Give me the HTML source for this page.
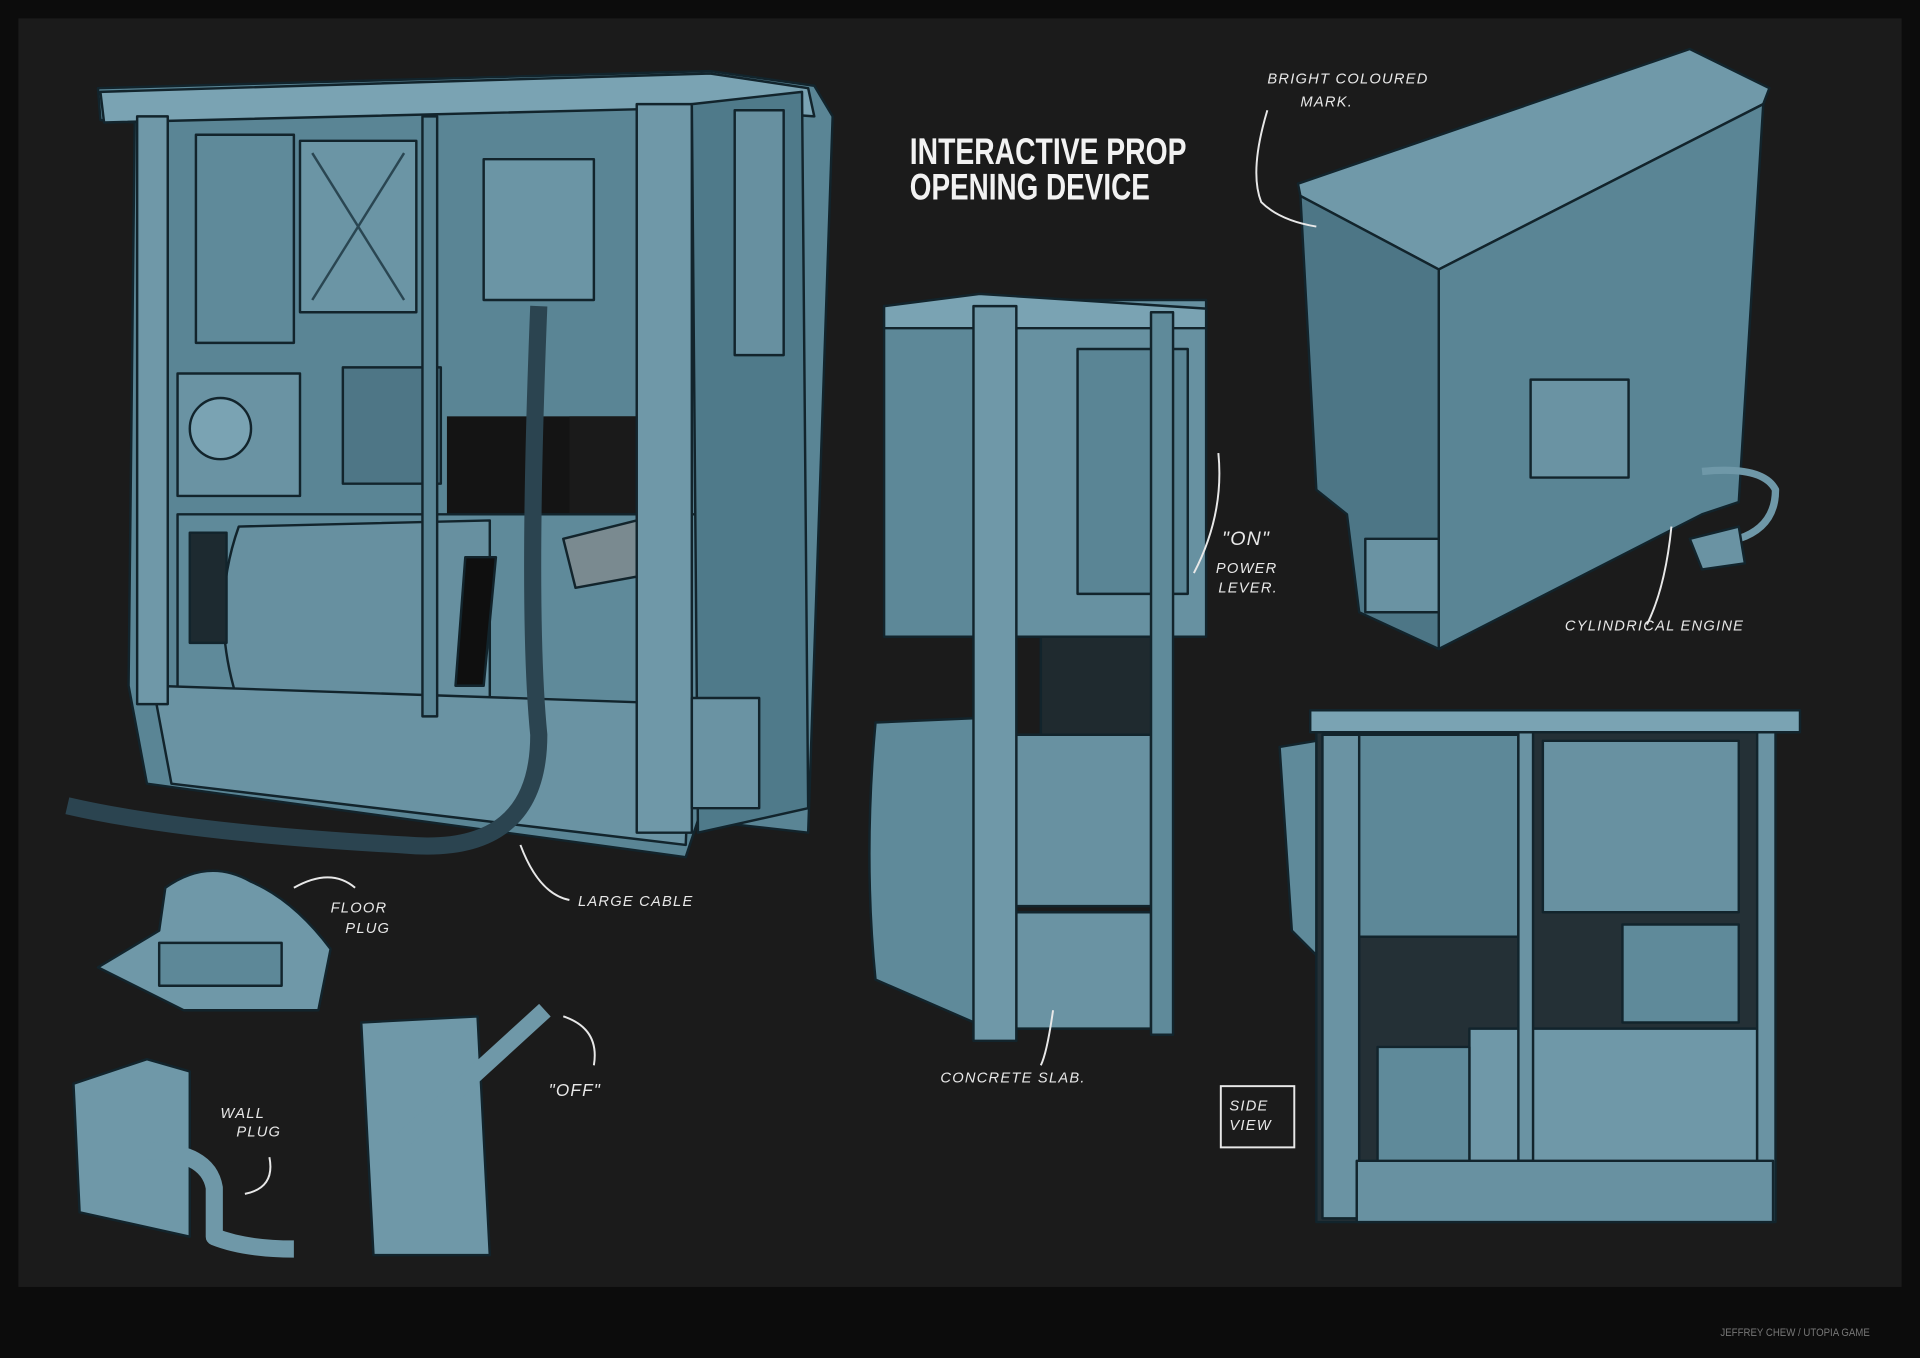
<!DOCTYPE html>
<html><head><meta charset="utf-8"><style>
html,body{margin:0;padding:0;background:#0c0c0c;}
svg{display:block}
</style></head><body>
<svg width="1920" height="1358" viewBox="0 0 1568 1109" xmlns="http://www.w3.org/2000/svg">
<rect width="1568" height="1109" fill="#0c0c0c"/>
<rect x="15" y="15" width="1538" height="1036" fill="#1b1b1b"/>
<g stroke="#12242c" stroke-width="2" stroke-linejoin="round">
<!-- BIG MACHINE -->
<polygon points="80,72 580,58 665,70 680,95 660,680 570,670 560,700 120,640 105,560 110,100 82,98" fill="#5a8595"/>
<polygon points="82,75 580,60 660,72 665,95 570,88 85,100" fill="#7aa3b3"/>
<rect x="160" y="110" width="80" height="170" fill="#5f8a9a"/>
<rect x="245" y="115" width="95" height="140" fill="#6b95a5"/>
<line x1="255" y1="125" x2="330" y2="245" stroke="#2a4652"/><line x1="330" y1="125" x2="255" y2="245" stroke="#2a4652"/>
<rect x="395" y="130" width="90" height="115" fill="#6b95a5"/>
<rect x="145" y="305" width="100" height="100" fill="#6a93a3"/>
<circle cx="180" cy="350" r="25" fill="#7aa3b3"/>
<rect x="280" y="300" width="80" height="95" fill="#4e7686"/>
<rect x="365" y="340" width="175" height="90" fill="#141414" stroke="none"/>
<rect x="465" y="340" width="60" height="90" fill="#1a1a1a" stroke="none"/>
<rect x="145" y="420" width="430" height="160" fill="#5f8a9a"/>
<path d="M195,430 Q170,500 195,575 L400,575 L400,425 Z" fill="#6790a0"/>
<rect x="155" y="435" width="30" height="90" fill="#1d2a30"/>
<path d="M380,455 L405,455 L395,560 L372,560 Z" fill="#0f0f0f"/>
<polygon points="460,440 520,425 525,470 470,480" fill="#7a8a90"/>
<polygon points="125,560 565,575 560,690 140,640" fill="#6a93a3"/>
<rect x="520" y="85" width="45" height="595" fill="#6f98a8"/>
<rect x="345" y="95" width="12" height="490" fill="#5a8595"/>
<rect x="112" y="95" width="25" height="480" fill="#6f98a8"/>
<polygon points="565,85 655,75 660,660 570,680" fill="#4f7a8a"/>
<rect x="600" y="90" width="40" height="200" fill="#6790a0"/>
<rect x="565" y="570" width="55" height="90" fill="#6a93a3"/>
<!-- cable -->
<path d="M440,250 Q430,500 440,600 Q440,700 330,690 Q150,680 55,658" fill="none" stroke="#2b4450" stroke-width="14"/>
<!-- MIDDLE MACHINE -->
<rect x="722" y="250" width="110" height="270" fill="#5d8898"/>
<rect x="830" y="245" width="155" height="275" fill="#6791a1"/>
<polygon points="722,250 800,240 985,252 985,268 722,268" fill="#7aa3b3"/>
<rect x="880" y="285" width="90" height="200" fill="#5a8595"/>
<rect x="850" y="520" width="100" height="80" fill="#1f2a2f"/>
<path d="M715,590 L830,585 L830,850 L715,800 Q705,700 715,590 Z" fill="#5f8a9a"/>
<rect x="830" y="600" width="110" height="140" fill="#6891a1"/>
<rect x="830" y="745" width="110" height="95" fill="#6a93a3"/>
<rect x="795" y="250" width="35" height="600" fill="#6f98a8"/>
<rect x="940" y="255" width="18" height="590" fill="#5f8a9a"/>
<!-- TOP RIGHT -->
<polygon points="1060,150 1380,40 1445,72 1440,85 1175,220 1062,160" fill="#7099a9"/>
<polygon points="1175,220 1440,85 1420,410 1390,420 1175,530" fill="#5a8595"/>
<polygon points="1062,160 1175,220 1175,530 1110,500 1100,420 1075,400" fill="#4d7686"/>
<rect x="1115" y="440" width="60" height="60" fill="#6a93a3"/>
<path d="M1390,385 Q1440,380 1450,400 Q1450,430 1420,440" fill="none" stroke="#6f98a8" stroke-width="6"/>
<polygon points="1380,440 1420,430 1425,460 1390,465" fill="#6a93a3"/>
<rect x="1250" y="310" width="80" height="80" fill="#6a93a3"/>
<!-- BOTTOM RIGHT -->
<rect x="1070" y="580" width="400" height="18" fill="#7aa3b3"/>
<rect x="1075" y="598" width="365" height="400" fill="#243036"/>
<rect x="1105" y="600" width="135" height="165" fill="#5d8898"/>
<rect x="1260" y="605" width="160" height="140" fill="#6891a1"/>
<rect x="1325" y="755" width="95" height="80" fill="#5f8a9a"/>
<rect x="1200" y="840" width="235" height="110" fill="#6f98a8"/>
<rect x="1125" y="855" width="75" height="95" fill="#5f8a9a"/>
<rect x="1080" y="600" width="30" height="395" fill="#6a93a3"/>
<rect x="1435" y="598" width="15" height="400" fill="#6a93a3"/>
<rect x="1240" y="598" width="12" height="350" fill="#6a93a3"/>
<rect x="1108" y="948" width="340" height="50" fill="#6891a1"/>
<polygon points="1045,610 1075,605 1075,780 1055,760" fill="#5f8a9a"/>
<!-- FLOOR PLUG -->
<path d="M80,790 L130,760 L135,725 Q170,700 205,720 Q240,735 270,775 L260,825 L150,825 Z" fill="#6f98a8"/>
<rect x="130" y="770" width="100" height="35" fill="#5d8898"/>
<!-- WALL PLUG -->
<polygon points="60,885 120,865 155,875 155,1010 65,990" fill="#6f98a8"/>
<path d="M120,940 Q170,940 175,970 L175,1010 Q200,1020 240,1020" fill="none" stroke="#6f98a8" stroke-width="14"/>
<!-- LEVER -->
<polygon points="295,835 390,830 400,1025 305,1025" fill="#6f98a8"/>
<line x1="330" y1="930" x2="445" y2="825" stroke="#6f98a8" stroke-width="14"/>
</g>
<!-- annotations -->
<g fill="none" stroke="#e8e8e8" stroke-width="1.6">
<path d="M1035,90 Q1020,140 1030,165 Q1045,180 1075,185"/>
<path d="M995,370 Q1000,420 975,468"/>
<path d="M1365,430 Q1360,480 1345,510"/>
<path d="M425,690 Q440,730 465,735"/>
<path d="M290,725 Q270,708 240,725"/>
<path d="M460,830 Q490,840 485,870"/>
<path d="M220,945 Q225,970 200,975"/>
<path d="M860,825 Q855,860 850,870"/>
<rect x="997" y="887" width="60" height="50"/>
</g>
<g font-family="'Liberation Sans',sans-serif" fill="#e8e8e8" font-size="12" font-style="italic" letter-spacing="1">
<text x="1035" y="68">BRIGHT COLOURED</text>
<text x="1062" y="87">MARK.</text>
<text x="998" y="445" font-size="16">"ON"</text>
<text x="993" y="468">POWER</text>
<text x="995" y="484">LEVER.</text>
<text x="1278" y="515">CYLINDRICAL ENGINE</text>
<text x="472" y="740">LARGE CABLE</text>
<text x="270" y="745">FLOOR</text>
<text x="282" y="762">PLUG</text>
<text x="180" y="913">WALL</text>
<text x="193" y="928">PLUG</text>
<text x="448" y="895" font-size="14">"OFF"</text>
<text x="768" y="884">CONCRETE SLAB.</text>
<text x="1004" y="907">SIDE</text>
<text x="1004" y="923">VIEW</text>
</g>
<g font-family="'Liberation Sans',sans-serif" font-weight="bold" fill="#f2f2f2" font-size="30">
<text x="743" y="134" textLength="226" lengthAdjust="spacingAndGlyphs">INTERACTIVE PROP</text>
<text x="743" y="163" textLength="196" lengthAdjust="spacingAndGlyphs">OPENING DEVICE</text>
</g>
<text x="1405" y="1091" font-family="'Liberation Sans',sans-serif" font-size="9" fill="#777" textLength="122" lengthAdjust="spacingAndGlyphs">JEFFREY CHEW / UTOPIA GAME</text>
</svg>
</body></html>
